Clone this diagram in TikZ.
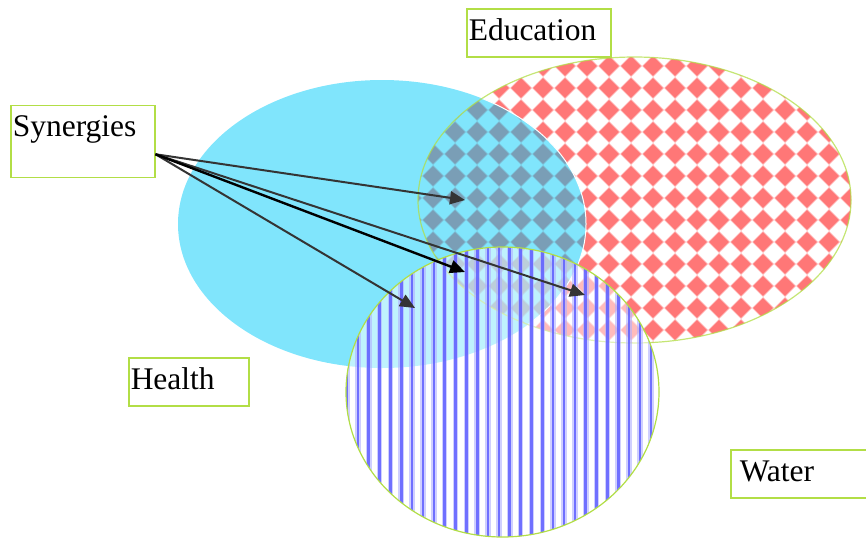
\documentclass[tikz,border=0pt]{standalone}
\usepackage{fontspec}
\setmainfont{Liberation Serif}
\usetikzlibrary{arrows.meta}
\definecolor{cyanfill}{RGB}{128,229,252}
\definecolor{diared}{RGB}{255,119,119}
\definecolor{diablue}{RGB}{122,158,182}
\definecolor{stripecore}{RGB}{95,95,255}
\definecolor{stripehalo}{RGB}{175,175,255}
\definecolor{boxgreen}{RGB}{178,222,70}
\definecolor{arrowgray}{RGB}{52,52,52}
\tikzset{
  labelbox/.style={draw=boxgreen, line width=1.5pt, anchor=north west, inner ysep=0pt,
    inner xsep=2pt, align=left, text height=31.5pt, text depth=16.5pt,
    font=\fontsize{31.5}{36}\selectfont},
  synarrow/.style={draw=arrowgray, line width=2pt, -{Triangle[length=15pt,width=13pt]}},
  rimline/.style={draw=boxgreen, line width=1.2pt},
}
\newcommand\diamondgrid{%
  \foreach \i in {0,...,20}{\foreach \j in {0,...,14}{%
    \fill[opacity=0.45] ({411+22*\i},{44+22*\j}) +(-11,0) -- +(0,-11) -- +(11,0) -- +(0,11) -- cycle;
    \fill ({411+22*\i},{44+22*\j}) +(-9.8,0) -- +(0,-9.8) -- +(9.8,0) -- +(0,9.8) -- cycle;}}}
\newcommand\eduellipse{(634.5,200) ellipse [x radius=216.5pt, y radius=143pt]}
\newcommand\healthellipse{(382,224) ellipse [x radius=204pt, y radius=144pt]}
\newcommand\waterellipse{(502.5,392) ellipse [x radius=156.5pt, y radius=145pt]}
\begin{document}
\begin{tikzpicture}[x=1pt, y=-1pt]
\useasboundingbox (0,0) rectangle (866,538);
% Education ellipse with red diamonds
\fill[white] \eduellipse;
\begin{scope}
  \clip \eduellipse;
  \begin{scope}[fill=diared]\diamondgrid\end{scope}
\end{scope}
% Health ellipse (cyan)
\fill[cyanfill] \healthellipse;
\begin{scope}
  \clip \eduellipse;
  \clip \healthellipse;
  \begin{scope}[fill=diablue]\diamondgrid\end{scope}
\end{scope}
\begin{scope}
  \clip \eduellipse;
  \draw[white, line width=1pt] \healthellipse;
\end{scope}
\draw[rimline, opacity=0.75] \eduellipse;
% Water circle with stripes
\fill[white, opacity=0.5] \waterellipse;
\begin{scope}
  \clip \waterellipse;
  \foreach \k in {0,...,29}{%
    \fill[stripehalo, opacity=0.6] ({347+10.85*\k-2.8},240) rectangle ({347+10.85*\k+2.8},540);
    \fill[stripecore, opacity=0.85] ({347+10.85*\k-1.3},240) rectangle ({347+10.85*\k+1.3},540);
  }
\end{scope}
\draw[rimline] \waterellipse;
% Label boxes
\node[labelbox, text width=140pt] (edu) at (466,8) {Education};
\node[labelbox, text width=140pt, text depth=40.5pt] (syn) at (10,104.5) {Synergies};
\node[labelbox, text width=116pt] (hea) at (128,357) {Health};
\node[labelbox, text width=118pt, inner xsep=9pt] (wat) at (730,449) {Water};
% Arrows
\coordinate (src) at ([yshift=-13pt]syn.east);
\coordinate (t1) at (465,200);
\coordinate (t2) at (465,272);
\coordinate (t3) at (415,308);
\coordinate (t4) at (585,295);
\draw[synarrow] (src) -- (t1);
\draw[synarrow] (src) -- (t3);
\draw[synarrow] (src) -- (t4);
\draw[synarrow, draw=black, line width=2.4pt] (src) -- (t2);
\end{tikzpicture}
\end{document}
